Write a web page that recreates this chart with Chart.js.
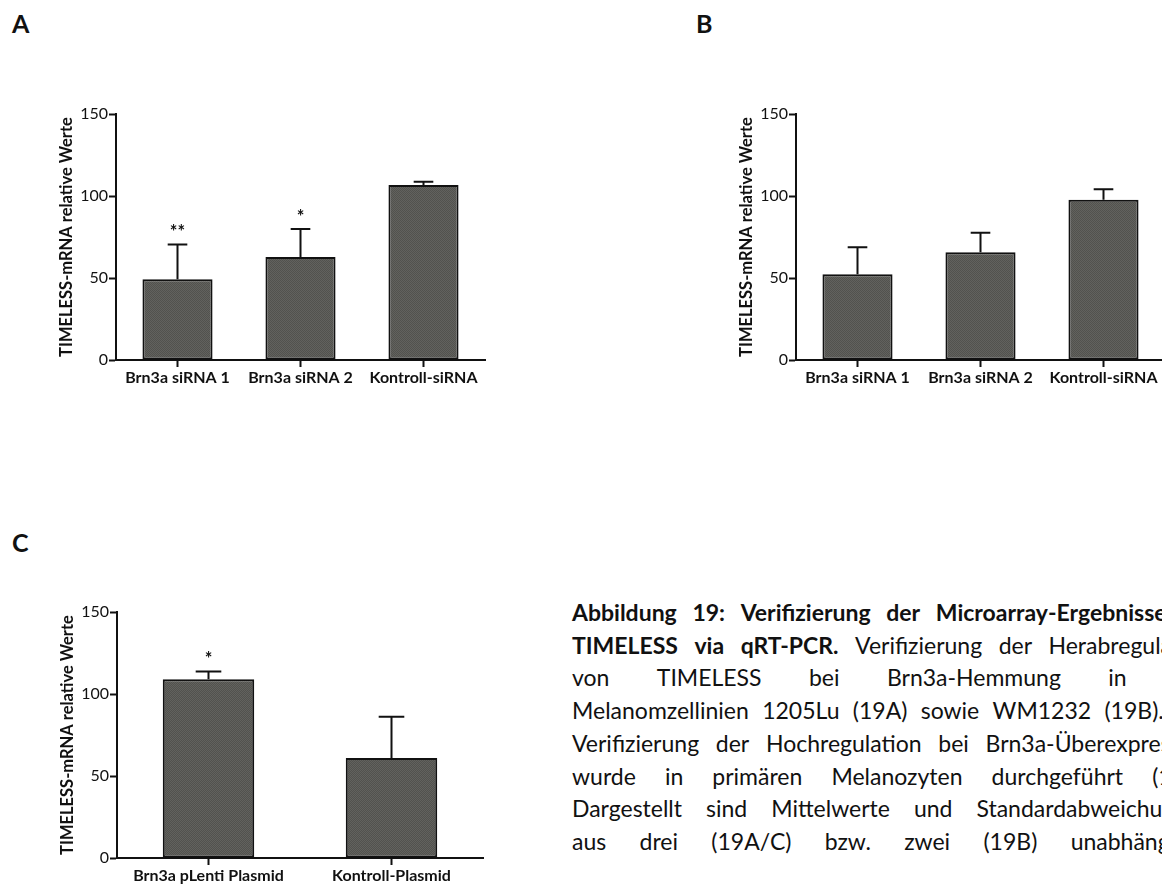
<!DOCTYPE html>
<html>
<head>
<meta charset="utf-8">
<script src="https://cdn.jsdelivr.net/npm/chart.js@4/dist/chart.umd.min.js"></script>
<style>
  html, body { margin: 0; padding: 0; background: #fff; }
  body { width: 1162px; height: 885px; overflow: hidden; position: relative;
         font-family: Lato, "Open Sans", sans-serif; color: #111; }
  canvas { position: absolute; }
  .letter { position: absolute; font: bold 25px Lato, sans-serif; line-height: 1; }
  .caption { position: absolute; left: 572px; top: 596px; width: 640px;
             font-size: 23px; line-height: 32.7px; }
  .caption .ln { display: flex; justify-content: space-between; column-gap: 6px; white-space: nowrap; }
  .caption .ln.natural { justify-content: flex-start; }
  .caption b { font-weight: bold; }
</style>
</head>
<body>
<div class="letter" style="left:12px;top:11px">A</div>
<div class="letter" style="left:696px;top:11px">B</div>
<div class="letter" style="left:12px;top:530px">C</div>

<canvas id="chartA" width="470" height="320" style="left:40px;top:90px"></canvas>
<canvas id="chartB" width="470" height="320" style="left:720px;top:90px"></canvas>
<canvas id="chartC" width="467" height="320" style="left:41px;top:588px"></canvas>

<div class="caption" id="caption"></div>

<script>
/* ---------- DATA ---------- */
const yTitle = "TIMELESS-mRNA relative Werte";
const yTicks = [0, 50, 100, 150];

// A: 1205Lu
const catsA = ["Brn3a siRNA 1", "Brn3a siRNA 2", "Kontroll-siRNA"];
const meanA = [49.2, 62.8, 106.7];
const sdA   = [21.3, 17.1, 2.0];
const sigA  = ["**", "*", ""];

// B: WM1232
const catsB = ["Brn3a siRNA 1", "Brn3a siRNA 2", "Kontroll-siRNA"];
const meanB = [52.3, 65.7, 97.7];
const sdB   = [16.4, 11.9, 6.4];
const sigB  = ["", "", ""];

// C: Melanozyten
const catsC = ["Brn3a pLenti Plasmid", "Kontroll-Plasmid"];
const meanC = [109.0, 61.0];
const sdC   = [4.7, 25.2];
const sigC  = ["*", ""];

// caption lines: [bold part, normal part]
const captionLines = [
  ["Abbildung 19: Verifizierung der Microarray-Ergebnisse für", ""],
  ["TIMELESS via qRT-PCR.", "Verifizierung der Herabregulation"],
  ["", "von TIMELESS bei Brn3a-Hemmung in den"],
  ["", "Melanomzellinien 1205Lu (19A) sowie WM1232 (19B). Die"],
  ["", "Verifizierung der Hochregulation bei Brn3a-Überexpression"],
  ["", "wurde in primären Melanozyten durchgeführt (19C)."],
  ["", "Dargestellt sind Mittelwerte und Standardabweichungen"],
  ["", "aus drei (19A/C) bzw. zwei (19B) unabhängigen"]
];

/* ---------- CAPTION ---------- */
const capEl = document.getElementById("caption");
captionLines.forEach(([boldPart, normalPart]) => {
  const ln = document.createElement("div");
  ln.className = "ln";
  boldPart.split(" ").filter(Boolean).forEach(w => {
    const b = document.createElement("b");
    b.textContent = w;
    ln.appendChild(b);
  });
  normalPart.split(" ").filter(Boolean).forEach(w => {
    const s = document.createElement("span");
    s.textContent = w;
    ln.appendChild(s);
  });
  capEl.appendChild(ln);
});

/* ---------- CHARTS ---------- */
Chart.defaults.font.family = "Lato, 'Open Sans', sans-serif";
Chart.defaults.color = "#111";

function barFill(ctx) {
  const p = document.createElement("canvas");
  p.width = 2; p.height = 2;
  const pc = p.getContext("2d");
  pc.fillStyle = "#62625e";
  pc.fillRect(0, 0, 2, 2);
  pc.fillStyle = "#52524e";
  pc.fillRect(0, 0, 1, 1);
  pc.fillRect(1, 1, 1, 1);
  return ctx.createPattern(p, "repeat");
}

const errorBars = {
  id: "errorBars",
  afterDatasetsDraw(chart) {
    const { ctx, scales: { y } } = chart;
    const ds = chart.data.datasets[0];
    const meta = chart.getDatasetMeta(0);
    ctx.save();
    ctx.strokeStyle = "#111";
    ctx.lineWidth = 2;
    meta.data.forEach((bar, i) => {
      const top = y.getPixelForValue(ds.data[i] + ds.errors[i]);
      const cap = bar.width * 0.28;
      ctx.beginPath();
      ctx.moveTo(bar.x, bar.y);
      ctx.lineTo(bar.x, top);
      ctx.moveTo(bar.x - cap / 2, top);
      ctx.lineTo(bar.x + cap / 2, top);
      ctx.stroke();
      if (ds.stars[i]) {
        ctx.fillStyle = "#111";
        ctx.font = "bold 18px Lato, sans-serif";
        ctx.textAlign = "center";
        ctx.textBaseline = "middle";
        ctx.fillText(ds.stars[i], bar.x, top - 12);
      }
    });
    ctx.restore();
  }
};

function makePanel(id, labels, means, sds, sigs, barPct) {
  const ctx = document.getElementById(id).getContext("2d");
  return new Chart(ctx, {
    type: "bar",
    data: {
      labels,
      datasets: [{
        data: means,
        errors: sds,
        stars: sigs,
        backgroundColor: barFill(ctx),
        borderColor: "#111",
        borderWidth: 2,
        borderSkipped: false,
        categoryPercentage: 1,
        barPercentage: barPct
      }]
    },
    options: {
      responsive: false,
      animation: false,
      events: [],
      layout: { padding: { top: 24, right: 25, bottom: 10, left: 0 } },
      plugins: { legend: { display: false }, tooltip: { enabled: false } },
      scales: {
        x: {
          grid: { offset: false, drawOnChartArea: false, tickLength: 7,
                  tickWidth: 2, tickColor: "#111" },
          border: { color: "#111", width: 2 },
          ticks: { color: "#111", font: { size: 16, weight: "bold" },
                   padding: 1, maxRotation: 0, autoSkip: false },
          afterFit(s) { s.height = 40; }
        },
        y: {
          min: 0,
          max: 150,
          afterBuildTicks(s) { s.ticks = yTicks.map(v => ({ value: v })); },
          grid: { drawOnChartArea: false, tickLength: 7, tickWidth: 2, tickColor: "#111" },
          border: { color: "#111", width: 2 },
          ticks: { color: "#111", font: { size: 16 }, padding: 1 },
          title: { display: true, text: yTitle, color: "#111",
                   font: { size: 16.5, weight: "bold" }, padding: { top: 17, bottom: 0 } },
          afterFit(s) { s.width = 76; }
        }
      }
    },
    plugins: [errorBars]
  });
}

makePanel("chartA", catsA, meanA, sdA, sigA, 0.57);
makePanel("chartB", catsB, meanB, sdB, sigB, 0.57);
makePanel("chartC", catsC, meanC, sdC, sigC, 0.5);
</script>
</body>
</html>
